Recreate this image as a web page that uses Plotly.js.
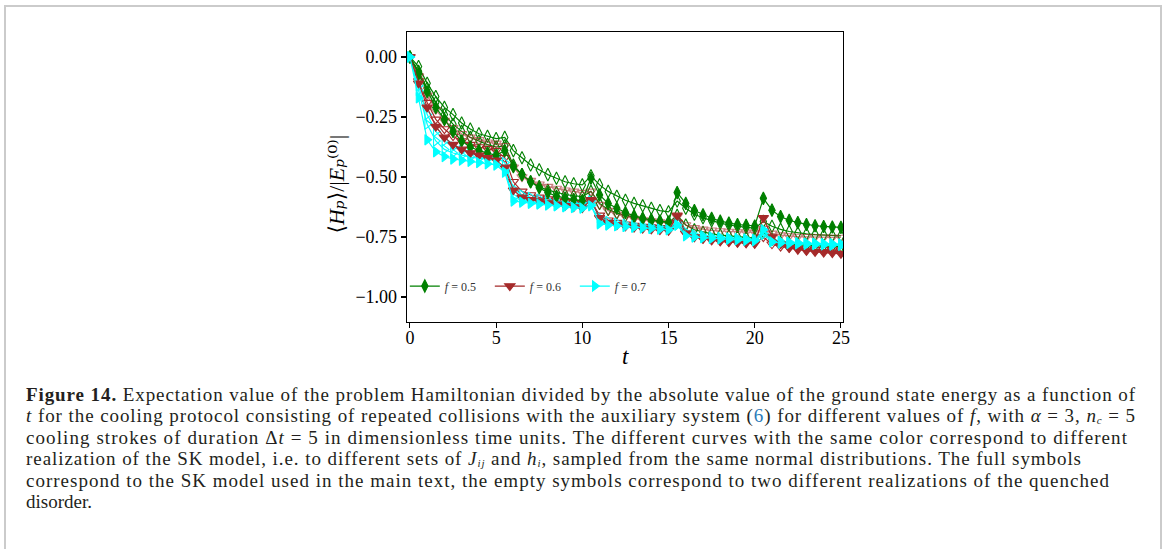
<!DOCTYPE html>
<html>
<head>
<meta charset="utf-8">
<script src="https://cdn.plot.ly/plotly-3.0.1.min.js"></script>
<style>
  html, body { margin: 0; padding: 0; background: #fff; width: 1165px; height: 549px; overflow: hidden; }
  #frame { position: absolute; left: 4px; top: 5px; width: 1158px; height: 600px; border: 2px solid #cbcbcb; box-sizing: border-box; }
  #chart { position: absolute; left: 0; top: 0; width: 1165px; height: 549px; }
  #caption { position: absolute; left: 26px; top: 384px; font-family: "Liberation Serif", "DejaVu Serif", serif; font-size: 19px; color: #231f20; white-space: nowrap; }
  #caption .ln { position: relative; height: 21.4px; line-height: 21.4px; font-size: 19px; }
  #caption b, #caption i, #caption span { font-size: 19px; }
  #caption sub, #caption sub i { font-size: 11px; line-height: 0; }
  #caption sub { vertical-align: -2px; }
  #caption .ref { color: #2b7bba; }
</style>
</head>
<body>
<div id="frame"></div>
<div id="chart"></div>
<div id="caption"><div class="ln" style="font-size:19px" data-right="1136"><b>Figure 14.</b> Expectation value of the problem Hamiltonian divided by the absolute value of the ground state energy as a function of</div><div class="ln" style="font-size:19px" data-right="1136"><i>t</i> for the cooling protocol consisting of repeated collisions with the auxiliary system (<span class="ref">6</span>) for different values of <i>f</i>, with <i>α</i> = 3, <i>n</i><sub><i>c</i></sub> = 5</div><div class="ln" style="font-size:19px" data-right="1128">cooling strokes of duration Δ<i>t</i> = 5 in dimensionless time units. The different curves with the same color correspond to different</div><div class="ln" style="font-size:19px" data-right="1082">realization of the SK model, i.e. to different sets of <i>J</i><sub><i>ij</i></sub> and <i>h</i><sub><i>i</i></sub>, sampled from the same normal distributions. The full symbols</div><div class="ln" style="font-size:19px" data-right="1110">correspond to the SK model used in the main text, the empty symbols correspond to two different realizations of the quenched</div><div class="ln" style="font-size:19px" data-right="92">disorder.</div></div>
<script>
// time grid of the cooling protocol (5 strokes of duration 5)
const t = [0, 0.5, 1, 1.5, 2, 2.5, 3, 3.5, 4, 4.5, 5,
  5.5, 6, 6.5, 7, 7.5, 8, 8.5, 9, 9.5, 10,
  10.5, 11, 11.5, 12, 12.5, 13, 13.5, 14, 14.5, 15,
  15.5, 16, 16.5, 17, 17.5, 18, 18.5, 19, 19.5, 20,
  20.5, 21, 21.5, 22, 22.5, 23, 23.5, 24, 24.5, 25];

// f = 0.5 : main-text SK model (full symbols)
const f05_main = [0, -0.07, -0.145, -0.21, -0.26, -0.31, -0.35, -0.375, -0.39, -0.40, -0.41,
  -0.39, -0.457, -0.49, -0.52, -0.545, -0.565, -0.58, -0.588, -0.594, -0.598,
  -0.505, -0.575, -0.61, -0.63, -0.648, -0.662, -0.672, -0.68, -0.685, -0.688,
  -0.565, -0.61, -0.64, -0.657, -0.672, -0.684, -0.692, -0.698, -0.701, -0.704,
  -0.589, -0.638, -0.665, -0.68, -0.69, -0.698, -0.703, -0.706, -0.708, -0.71];
// f = 0.5 : other disorder realizations (empty symbols)
const f05_realA = [0, -0.04, -0.11, -0.165, -0.21, -0.24, -0.275, -0.30, -0.32, -0.33, -0.34,
  -0.335, -0.39, -0.42, -0.45, -0.47, -0.49, -0.505, -0.52, -0.528, -0.533,
  -0.495, -0.533, -0.56, -0.58, -0.597, -0.61, -0.62, -0.63, -0.64, -0.645,
  -0.60, -0.63, -0.655, -0.67, -0.682, -0.692, -0.70, -0.706, -0.71, -0.713,
  -0.685, -0.705, -0.718, -0.727, -0.733, -0.737, -0.74, -0.742, -0.744, -0.745];
const f05_realB = [0, -0.06, -0.13, -0.19, -0.24, -0.28, -0.31, -0.335, -0.35, -0.365, -0.375,
  -0.37, -0.45, -0.49, -0.52, -0.54, -0.555, -0.565, -0.573, -0.578, -0.582,
  -0.56, -0.61, -0.635, -0.65, -0.66, -0.668, -0.674, -0.678, -0.684, -0.69,
  -0.66, -0.70, -0.72, -0.73, -0.737, -0.742, -0.746, -0.749, -0.752, -0.755,
  -0.73, -0.76, -0.772, -0.778, -0.782, -0.785, -0.787, -0.788, -0.789, -0.79];

// f = 0.6
const f06_main = [0, -0.11, -0.21, -0.29, -0.335, -0.365, -0.385, -0.40, -0.41, -0.42, -0.43,
  -0.46, -0.555, -0.585, -0.595, -0.60, -0.608, -0.614, -0.62, -0.625, -0.63,
  -0.595, -0.67, -0.69, -0.70, -0.706, -0.711, -0.715, -0.718, -0.721, -0.724,
  -0.66, -0.735, -0.75, -0.757, -0.762, -0.766, -0.769, -0.772, -0.774, -0.776,
  -0.67, -0.75, -0.78, -0.795, -0.803, -0.808, -0.812, -0.815, -0.817, -0.82];
const f06_realA = [0, -0.08, -0.16, -0.22, -0.265, -0.295, -0.32, -0.335, -0.345, -0.355, -0.36,
  -0.37, -0.46, -0.50, -0.515, -0.53, -0.54, -0.548, -0.555, -0.56, -0.565,
  -0.56, -0.615, -0.64, -0.655, -0.665, -0.673, -0.679, -0.684, -0.688, -0.692,
  -0.665, -0.70, -0.712, -0.718, -0.722, -0.725, -0.727, -0.729, -0.73, -0.731,
  -0.715, -0.735, -0.742, -0.746, -0.748, -0.749, -0.75, -0.751, -0.752, -0.752];
const f06_realB = [0, -0.10, -0.19, -0.26, -0.30, -0.33, -0.35, -0.365, -0.375, -0.383, -0.39,
  -0.42, -0.52, -0.56, -0.575, -0.585, -0.592, -0.598, -0.603, -0.607, -0.61,
  -0.60, -0.66, -0.68, -0.69, -0.697, -0.702, -0.706, -0.709, -0.712, -0.714,
  -0.69, -0.735, -0.75, -0.758, -0.764, -0.768, -0.771, -0.774, -0.776, -0.778,
  -0.75, -0.78, -0.79, -0.795, -0.798, -0.80, -0.802, -0.803, -0.804, -0.805];

// f = 0.7
const f07_main = [0, -0.17, -0.345, -0.395, -0.415, -0.425, -0.43, -0.435, -0.44, -0.445, -0.45,
  -0.48, -0.60, -0.605, -0.61, -0.613, -0.617, -0.62, -0.624, -0.627, -0.63,
  -0.62, -0.695, -0.70, -0.703, -0.706, -0.709, -0.712, -0.714, -0.717, -0.72,
  -0.70, -0.745, -0.75, -0.753, -0.756, -0.758, -0.76, -0.762, -0.764, -0.766,
  -0.72, -0.77, -0.775, -0.777, -0.779, -0.781, -0.782, -0.783, -0.784, -0.785];
const f07_realA = [0, -0.12, -0.24, -0.31, -0.35, -0.375, -0.39, -0.40, -0.408, -0.414, -0.42,
  -0.44, -0.55, -0.575, -0.585, -0.592, -0.598, -0.603, -0.607, -0.61, -0.613,
  -0.60, -0.67, -0.685, -0.692, -0.697, -0.701, -0.704, -0.707, -0.709, -0.711,
  -0.69, -0.73, -0.74, -0.745, -0.749, -0.752, -0.754, -0.756, -0.758, -0.76,
  -0.735, -0.762, -0.768, -0.771, -0.773, -0.775, -0.776, -0.777, -0.778, -0.779];
const f07_realB = [0, -0.14, -0.28, -0.35, -0.385, -0.40, -0.41, -0.417, -0.422, -0.426, -0.43,
  -0.47, -0.585, -0.598, -0.605, -0.61, -0.614, -0.618, -0.621, -0.624, -0.626,
  -0.615, -0.69, -0.698, -0.702, -0.706, -0.709, -0.712, -0.714, -0.716, -0.718,
  -0.70, -0.74, -0.747, -0.751, -0.754, -0.757, -0.759, -0.761, -0.763, -0.765,
  -0.74, -0.768, -0.772, -0.775, -0.777, -0.778, -0.779, -0.78, -0.781, -0.782];

const fLabels = ['<i>f</i> = 0.5', '<i>f</i> = 0.6', '<i>f</i> = 0.7'];
const fColors = ['#008000', '#a52a2a', '#00ffff'];
const fSymbols = ['diamond-tall', 'triangle-down', 'triangle-right'];

function curve(y, k, filled, extra) {
  const col = fColors[k];
  return Object.assign({
    x: t, y: y, type: 'scatter', mode: 'lines+markers',
    name: fLabels[k], legendgroup: 'g' + k, showlegend: filled,
    line: { color: col, width: 1.2 },
    marker: {
      symbol: filled ? fSymbols[k] : fSymbols[k] + '-open',
      size: 9,
      color: col,
      line: { color: col, width: 1.1 }
    },
    hoverinfo: 'skip'
  }, extra || {});
}

const traces = [
  curve(f05_realA, 0, false), curve(f05_realB, 0, false),
  curve(f06_realA, 1, false, { opacity: 0.6 }), curve(f06_realB, 1, false),
  curve(f07_realA, 2, false), curve(f07_realB, 2, false),
  curve(f05_main, 0, true), curve(f06_main, 1, true), curve(f07_main, 2, true)
];

const serif = 'Liberation Serif, DejaVu Serif, serif';
const tickFont = { family: serif, size: 18, color: '#000' };

const layout = {
  width: 1165, height: 549,
  margin: { l: 407, r: 322, t: 32, b: 227, pad: 0 },
  paper_bgcolor: 'rgba(0,0,0,0)', plot_bgcolor: 'rgba(0,0,0,0)',
  showlegend: true,
  legend: {
    orientation: 'h', x: -0.005, y: 0.124, xanchor: 'left', yanchor: 'middle',
    bgcolor: 'rgba(0,0,0,0)', borderwidth: 0,
    font: { family: serif, size: 12, color: '#333' },
    entrywidth: 40, entrywidthmode: 'pixels', itemwidth: 30
  },
  xaxis: {
    range: [-0.17, 25.12], tickmode: 'linear', tick0: 0, dtick: 5,
    showgrid: false, zeroline: false, showline: true, mirror: true,
    linecolor: '#000', linewidth: 1.3, ticks: 'outside', ticklen: 5, tickwidth: 1.1, tickcolor: '#000',
    tickfont: tickFont, ticklabelstandoff: -6
  },
  yaxis: {
    range: [-1.104, 0.104], tickmode: 'linear', tick0: 0, dtick: 0.25, tickformat: '.2f',
    showgrid: false, zeroline: false, showline: true, mirror: true,
    linecolor: '#000', linewidth: 1.3, ticks: 'outside', ticklen: 5, tickwidth: 1.1, tickcolor: '#000',
    tickfont: tickFont
  },
  annotations: [
    { text: '<i>t</i>', xref: 'paper', yref: 'paper', x: 0.5, y: -0.118, xanchor: 'center', yanchor: 'middle',
      showarrow: false, font: { family: serif, size: 23, color: '#000' } },
    { text: '⟨<i>Hₚ</i>⟩/|<i>Eₚ</i>⁽⁰⁾|', xref: 'paper', yref: 'paper',
      x: -0.162, y: 0.475, xanchor: 'center', yanchor: 'middle', textangle: -90,
      showarrow: false, font: { family: serif, size: 22, color: '#000' } }
  ]
};

Plotly.newPlot('chart', traces, layout, { staticPlot: true, displayModeBar: false });

// spread each caption line to its printed width
document.querySelectorAll('#caption .ln').forEach(function (ln) {
  const target = parseFloat(ln.dataset.right) - 26;
  const range = document.createRange();
  range.selectNodeContents(ln);
  const natural = range.getBoundingClientRect().width;
  const n = ln.textContent.length;
  if (n > 1 && natural > 0) {
    ln.style.letterSpacing = ((target - natural) / n).toFixed(3) + 'px';
  }
});
</script>
</body>
</html>
